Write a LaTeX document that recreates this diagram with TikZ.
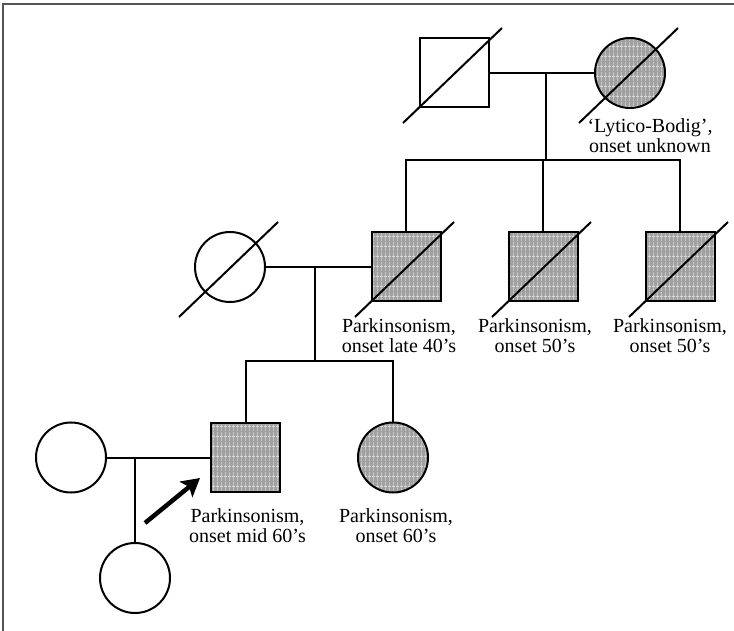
\documentclass[tikz,border=0pt]{standalone}
\usepackage{fontspec}
\setmainfont{Liberation Serif}
\usetikzlibrary{arrows.meta,patterns.meta}
\definecolor{affgray}{RGB}{160,160,160}
\definecolor{plaid}{RGB}{215,215,215}
\definecolor{framec}{RGB}{85,85,85}
\pgfdeclarepattern{
  name=plaidpat, type=uncolored,
  bottom left={\pgfpoint{0pt}{0pt}}, top right={\pgfpoint{4pt}{10pt}},
  tile size={\pgfpoint{4pt}{10pt}},
  code={
    \pgfsetlinewidth{0.9pt}
    \pgfpathmoveto{\pgfpoint{2pt}{0pt}}\pgfpathlineto{\pgfpoint{2pt}{10pt}}
    \pgfpathmoveto{\pgfpoint{0pt}{5pt}}\pgfpathlineto{\pgfpoint{4pt}{5pt}}
    \pgfusepath{stroke}
  }
}
\begin{document}
\begin{tikzpicture}[x=1pt,y=-1pt,
  male/.style={draw,line width=2pt,rectangle,minimum size=69pt,inner sep=0pt},
  female/.style={draw,line width=2pt,circle,minimum size=70pt,inner sep=0pt},
  affected/.style={preaction={fill=affgray},pattern=plaidpat,pattern color=plaid},
  link/.style={line width=2pt},
  lbl/.style={align=center,inner sep=0pt,anchor=north,font=\fontsize{20}{20.5}\selectfont},
]
\useasboundingbox (0,0) rectangle (734,631);
\draw[framec,line width=2pt] (734,4) -- (3,4) -- (3,631);

% generation I
\node[male] (gf) at (454,73) {};
\node[female,affected] (gm) at (630,73) {};
\draw[link] (gf.east) -- (gm.west);
\coordinate (m1) at (546,73);
\coordinate (sib1) at (546,160);
\draw[link] (m1) -- (sib1);

% generation II
\node[male,affected] (s1) at (406,267) {};
\node[male,affected] (s2) at (543,267) {};
\node[male,affected] (s3) at (680,267) {};
\draw[link] (s1.north) |- (sib1) -| (s3.north);
\draw[link] (s2.north) -- (s2.north |- sib1);
\node[female] (w) at (230,267) {};
\draw[link] (w.east) -- (s1.west);
\coordinate (m2) at (315,267);
\coordinate (sib2) at (315,361);
\draw[link] (m2) -- (sib2);

% generation III
\node[male,affected] (p) at (245.5,457.5) {};
\node[female,affected] (sis) at (393,457.5) {};
\draw[link] (p.north) |- (sib2) -| (sis.north);
\node[female] (sp) at (71,457.5) {};
\draw[link] (sp.east) -- (p.west);
\coordinate (m3) at (135,457.5);

% generation IV
\node[female] (ch) at (135,578) {};
\draw[link] (m3) -- (ch.north);

% deceased slashes
\foreach \n in {gf,gm,w,s1,s2,s3}
  \draw[link] ([shift={(-51,50)}]\n.center) -- ([shift={(48,-45)}]\n.center);

% labels
\node[lbl] (lgm) at (650,118) {‘Lytico-Bodig’,\\onset unknown};
\node[lbl] (l1) at (399,318) {Parkinsonism,\\onset late 40’s};
\node[lbl] (l2) at (535,318) {Parkinsonism,\\onset 50’s};
\node[lbl] (l3) at (670,318) {Parkinsonism,\\onset 50’s};
\node[lbl] (lp) at (247.5,508) {Parkinsonism,\\onset mid 60’s};
\node[lbl] (ls) at (396,508) {Parkinsonism,\\onset 60’s};

% proband arrow
\coordinate (atail) at (145,523);
\coordinate (ahead) at (200,478);
\draw[line width=4.5pt,-{Stealth[length=18pt,width=20pt,inset=4pt]}] (atail) -- (ahead);
\end{tikzpicture}
\end{document}
